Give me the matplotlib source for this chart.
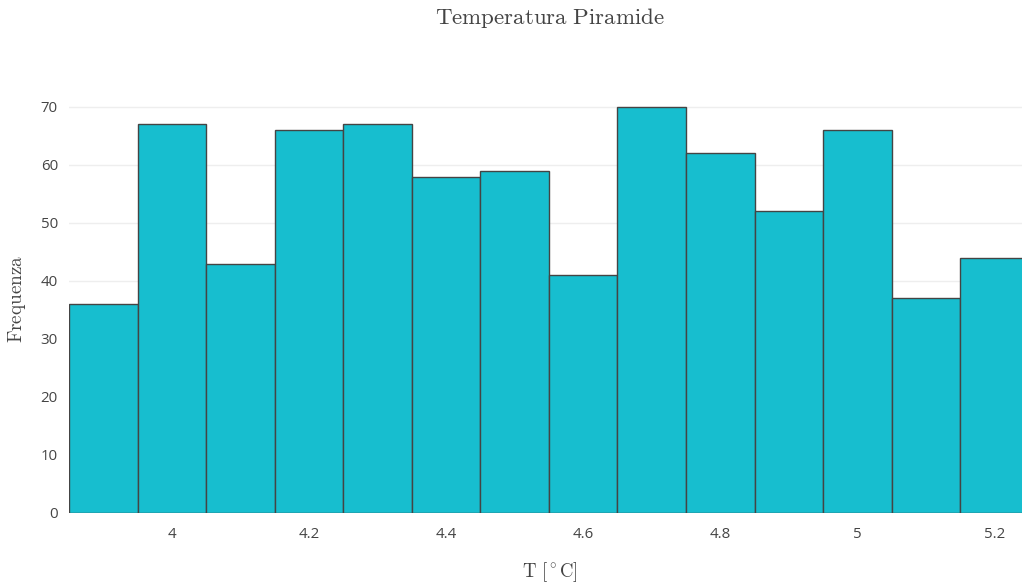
import matplotlib
matplotlib.use('Agg')
import matplotlib.pyplot as plt

plt.rcParams['mathtext.fontset'] = 'cm'

# histogram bins (left edges) and counts
bin_lefts = [3.85, 3.95, 4.05, 4.15, 4.25, 4.35, 4.45, 4.55, 4.65, 4.75, 4.85, 4.95, 5.05, 5.15]
counts = [36, 67, 43, 66, 67, 58, 59, 41, 70, 62, 52, 66, 37, 44]
bin_width = 0.1
xticks = [4, 4.2, 4.4, 4.6, 4.8, 5, 5.2]
xtick_labels = ['4', '4.2', '4.4', '4.6', '4.8', '5', '5.2']
yticks = [0, 10, 20, 30, 40, 50, 60, 70]

W, H = 1022, 587
fig = plt.figure(figsize=(W / 100, H / 100), dpi=100)
ax = fig.add_axes([69 / W, (H - 513) / H, (W - 69) / W, (513 - 85.5) / H])

ax.bar(bin_lefts, counts, width=bin_width, align='edge', color='#17becf',
       edgecolor='#444444', linewidth=1.0, zorder=2)

ax.set_xlim(3.85, 5.24)
ax.set_ylim(0, 73.7)
ax.set_xticks(xticks)
ax.set_xticklabels(xtick_labels)
ax.set_yticks(yticks)
ax.grid(axis='y', color='#eeeeee', linewidth=1, zorder=0)
for s in ax.spines.values():
    s.set_visible(False)
ax.tick_params(axis='both', length=0, labelsize=10.8, labelcolor='#444444')
ax.tick_params(axis='x', pad=10)
ax.tick_params(axis='y', pad=8)
for lab in ax.get_xticklabels() + ax.get_yticklabels():
    lab.set_fontfamily('Open Sans')

fig.text(550 / W, 1 - 18 / H, r'$\mathrm{Temperatura\ Piramide}$',
         ha='center', va='center', fontsize=16.5, color='#444444')
fig.text(550 / W, 1 - 572 / H, r'$\mathrm{T}\ [^\circ\mathrm{C}]$',
         ha='center', va='center', fontsize=13.5, color='#444444')
fig.text(17 / W, 1 - 299 / H, r'$\mathrm{Frequenza}$', rotation=90,
         ha='center', va='center', fontsize=13.8, color='#444444')

fig.savefig('out.png', dpi=100)
